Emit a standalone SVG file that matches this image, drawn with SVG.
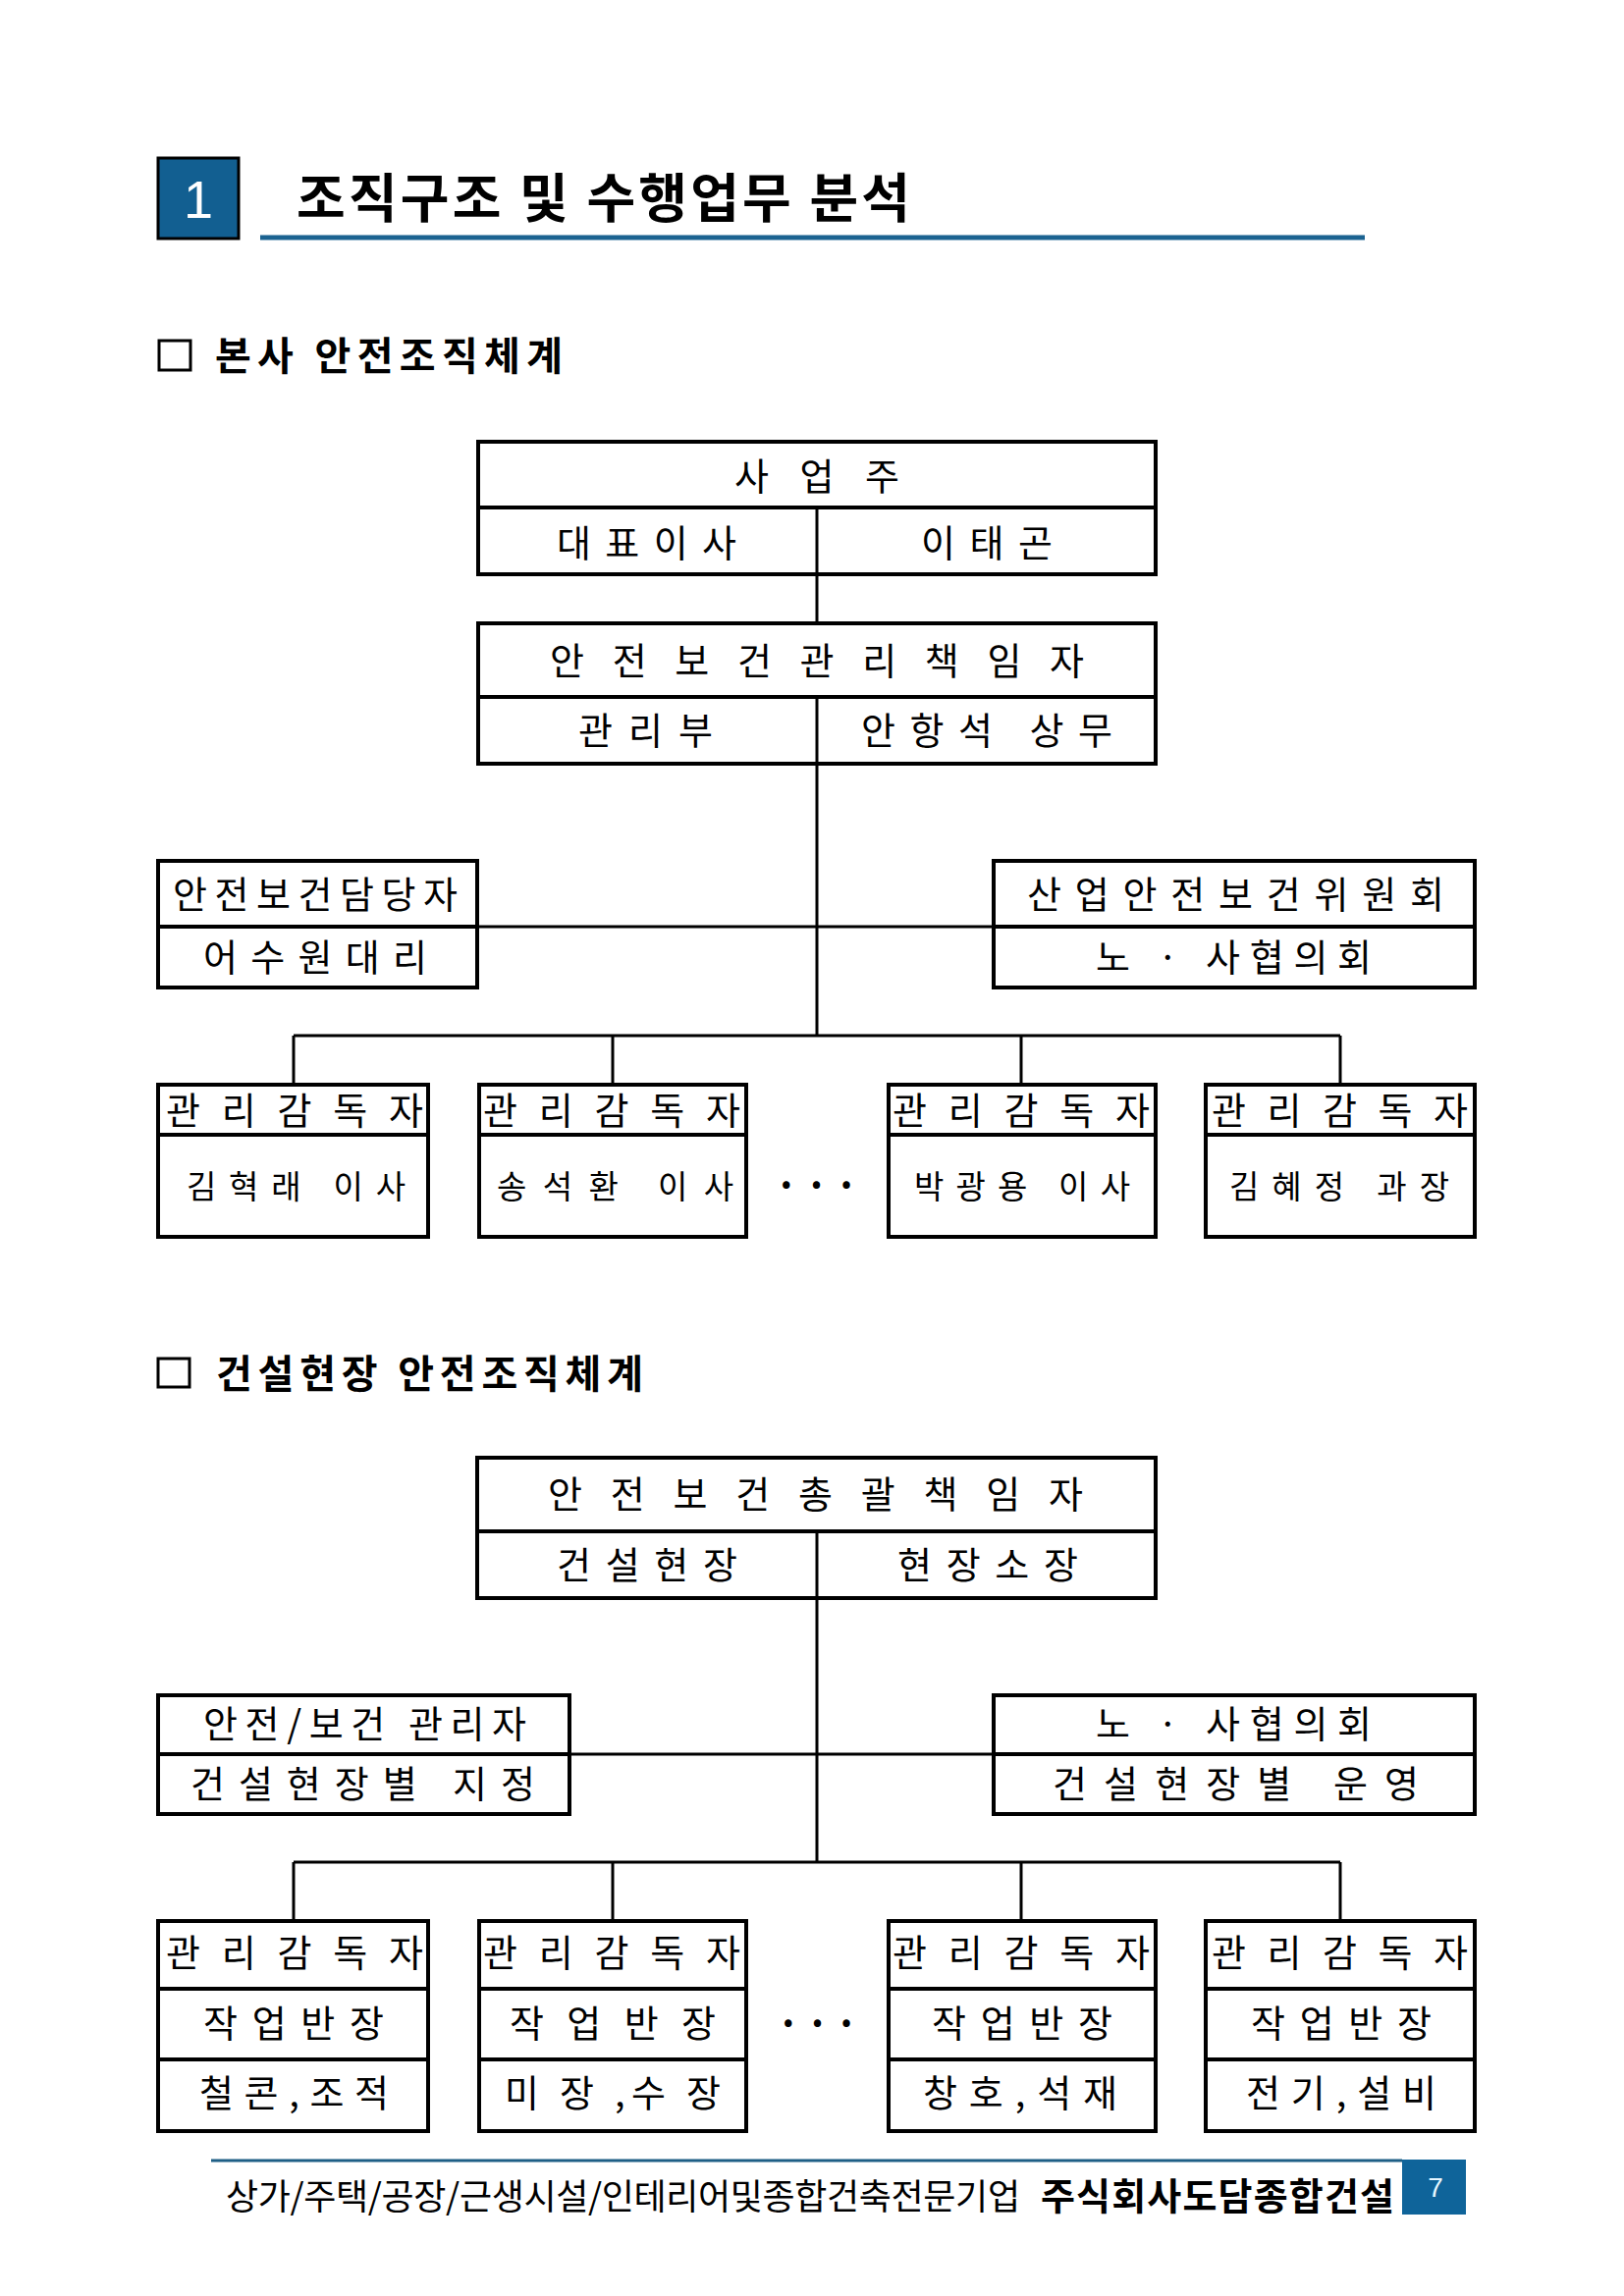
<svg xmlns="http://www.w3.org/2000/svg" width="1654" height="2339" viewBox="0 0 1654 2339">
<style>
.bx{fill:#fff;stroke:#000;stroke-width:4}
.dv{stroke:#000;stroke-width:4;fill:none}
.dvt{stroke:#000;stroke-width:3;fill:none}
.cn{stroke:#000;stroke-width:3;fill:none}
.t{font-family:"Noto Sans CJK KR","Noto Sans",sans-serif;font-size:38px;fill:#000}
.s{font-size:33px}
.d{font-size:40px;font-weight:bold}
.h{font-family:"Noto Sans CJK KR","Noto Sans",sans-serif;font-weight:bold;fill:#000}
</style>
<rect width="1654" height="2339" fill="#fff"/>

<g id="header">
<rect x="161" y="161" width="82" height="82" fill="#125f91" stroke="#000" stroke-width="3"/>
<text x="202" y="222" font-family="Liberation Sans,Arial,sans-serif" font-size="54" fill="#fff" text-anchor="middle">1</text>
<text class="h" x="302" y="222" font-size="54" textLength="625" lengthAdjust="spacing">조직구조 및 수행업무 분석</text>
<line x1="265" y1="242" x2="1390" y2="242" stroke="#1b6391" stroke-width="5"/>
</g>

<g id="section1">
<rect x="162" y="347" width="32" height="30" fill="none" stroke="#000" stroke-width="3"/>
<text class="h" x="219" y="377" font-size="40" textLength="354" lengthAdjust="spacing">본사 안전조직체계</text>
</g>

<g id="connectors1">
<line class="cn" x1="832" y1="585" x2="832" y2="635"/>
<line class="cn" x1="832" y1="778" x2="832" y2="1055"/>
<line class="cn" x1="486" y1="944" x2="1012" y2="944"/>
<line class="cn" x1="299" y1="1055" x2="1365" y2="1055"/>
<line class="cn" x1="299" y1="1055" x2="299" y2="1105"/>
<line class="cn" x1="624" y1="1055" x2="624" y2="1105"/>
<line class="cn" x1="1040" y1="1055" x2="1040" y2="1105"/>
<line class="cn" x1="1365" y1="1055" x2="1365" y2="1105"/>
</g>

<g id="owner">
<rect class="bx" x="487" y="450" width="690" height="135"/>
<line class="dv" x1="487" y1="517" x2="1177" y2="517"/>
<line class="dvt" x1="832" y1="517" x2="832" y2="585"/>
<text class="t" x="748" y="499" textLength="168" lengthAdjust="spacing">사 업 주</text>
<text class="t" x="567" y="567" textLength="183" lengthAdjust="spacing">대표이사</text>
<text class="t" x="938" y="567" textLength="134" lengthAdjust="spacing">이태곤</text>
</g>

<g id="safety-manager">
<rect class="bx" x="487" y="635" width="690" height="143"/>
<line class="dv" x1="487" y1="710" x2="1177" y2="710"/>
<line class="dvt" x1="832" y1="710" x2="832" y2="778"/>
<text class="t" x="560" y="687" textLength="544" lengthAdjust="spacing">안 전 보 건 관 리 책 임 자</text>
<text class="t" x="589" y="758" textLength="137" lengthAdjust="spacing">관리부</text>
<text class="t" x="877" y="758" textLength="256" lengthAdjust="spacing">안항석 상무</text>
</g>

<g id="safety-officer">
<rect class="bx" x="161" y="877" width="325" height="129"/>
<line class="dv" x1="161" y1="944" x2="486" y2="944"/>
<text class="t" x="176" y="925" textLength="290" lengthAdjust="spacing">안전보건담당자</text>
<text class="t" x="207" y="989" textLength="228" lengthAdjust="spacing">어수원대리</text>
</g>

<g id="committee">
<rect class="bx" x="1012" y="877" width="490" height="129"/>
<line class="dv" x1="1012" y1="944" x2="1502" y2="944"/>
<text class="t" x="1046" y="925" textLength="425" lengthAdjust="spacing">산업안전보건위원회</text>
<text class="t" x="1116" y="989" textLength="281" lengthAdjust="spacing">노 · 사협의회</text>
</g>

<g id="supervisor1">
<rect class="bx" x="161" y="1105" width="275" height="155"/>
<line class="dv" x1="161" y1="1156" x2="436" y2="1156"/>
<text class="t" x="169" y="1145" textLength="262" lengthAdjust="spacing">관리감독자</text>
<text class="t s" x="190" y="1221" textLength="223" lengthAdjust="spacing">김혁래 이사</text>
</g>
<g id="supervisor2">
<rect class="bx" x="488" y="1105" width="272" height="155"/>
<line class="dv" x1="488" y1="1156" x2="760" y2="1156"/>
<text class="t" x="492" y="1145" textLength="262" lengthAdjust="spacing">관리감독자</text>
<text class="t s" x="506" y="1221" textLength="241" lengthAdjust="spacing">송석환 이사</text>
</g>
<text class="t d" x="789" y="1222" textLength="85" lengthAdjust="spacing">· · ·</text>
<g id="supervisor3">
<rect class="bx" x="905" y="1105" width="272" height="155"/>
<line class="dv" x1="905" y1="1156" x2="1177" y2="1156"/>
<text class="t" x="909" y="1145" textLength="262" lengthAdjust="spacing">관리감독자</text>
<text class="t s" x="931" y="1221" textLength="220" lengthAdjust="spacing">박광용 이사</text>
</g>
<g id="supervisor4">
<rect class="bx" x="1228" y="1105" width="274" height="155"/>
<line class="dv" x1="1228" y1="1156" x2="1502" y2="1156"/>
<text class="t" x="1234" y="1145" textLength="261" lengthAdjust="spacing">관리감독자</text>
<text class="t s" x="1252" y="1221" textLength="224" lengthAdjust="spacing">김혜정 과장</text>
</g>

<g id="section2">
<rect x="161" y="1384" width="32" height="29" fill="none" stroke="#000" stroke-width="3"/>
<text class="h" x="220" y="1414" font-size="40" textLength="435" lengthAdjust="spacing">건설현장 안전조직체계</text>
</g>

<g id="connectors2">
<line class="cn" x1="832" y1="1628" x2="832" y2="1897"/>
<line class="cn" x1="580" y1="1787" x2="1012" y2="1787"/>
<line class="cn" x1="299" y1="1897" x2="1365" y2="1897"/>
<line class="cn" x1="299" y1="1897" x2="299" y2="1957"/>
<line class="cn" x1="624" y1="1897" x2="624" y2="1957"/>
<line class="cn" x1="1040" y1="1897" x2="1040" y2="1957"/>
<line class="cn" x1="1365" y1="1897" x2="1365" y2="1957"/>
</g>

<g id="site-manager">
<rect class="bx" x="486" y="1485" width="691" height="143"/>
<line class="dv" x1="486" y1="1560" x2="1177" y2="1560"/>
<line class="dvt" x1="832" y1="1560" x2="832" y2="1628"/>
<text class="t" x="558" y="1536" textLength="545" lengthAdjust="spacing">안 전 보 건 총 괄 책 임 자</text>
<text class="t" x="567" y="1608" textLength="184" lengthAdjust="spacing">건설현장</text>
<text class="t" x="914" y="1608" textLength="184" lengthAdjust="spacing">현장소장</text>
</g>

<g id="site-safety-manager">
<rect class="bx" x="161" y="1727" width="419" height="121"/>
<line class="dv" x1="161" y1="1787" x2="580" y2="1787"/>
<text class="t" x="207" y="1770" textLength="329" lengthAdjust="spacing">안전/보건 관리자</text>
<text class="t" x="194" y="1831" textLength="351" lengthAdjust="spacing">건설현장별 지정</text>
</g>

<g id="site-council">
<rect class="bx" x="1012" y="1727" width="490" height="121"/>
<line class="dv" x1="1012" y1="1787" x2="1502" y2="1787"/>
<text class="t" x="1116" y="1770" textLength="281" lengthAdjust="spacing">노 · 사협의회</text>
<text class="t" x="1072" y="1831" textLength="373" lengthAdjust="spacing">건설현장별 운영</text>
</g>

<g id="site-supervisor1">
<rect class="bx" x="161" y="1957" width="275" height="214"/>
<line class="dv" x1="161" y1="2026" x2="436" y2="2026"/>
<line class="dv" x1="161" y1="2098" x2="436" y2="2098"/>
<text class="t" x="169" y="2003" textLength="262" lengthAdjust="spacing">관리감독자</text>
<text class="t" x="207" y="2075" textLength="184" lengthAdjust="spacing">작업반장</text>
<text class="t" x="203" y="2146" textLength="193" lengthAdjust="spacing">철콘,조적</text>
</g>
<g id="site-supervisor2">
<rect class="bx" x="488" y="1957" width="272" height="214"/>
<line class="dv" x1="488" y1="2026" x2="760" y2="2026"/>
<line class="dv" x1="488" y1="2098" x2="760" y2="2098"/>
<text class="t" x="492" y="2003" textLength="262" lengthAdjust="spacing">관리감독자</text>
<text class="t" x="519" y="2075" textLength="210" lengthAdjust="spacing">작 업 반 장</text>
<text class="t" x="514" y="2146" textLength="220" lengthAdjust="spacing">미 장 ,수 장</text>
</g>
<text class="t d" x="791" y="2076" textLength="83" lengthAdjust="spacing">· · ·</text>
<g id="site-supervisor3">
<rect class="bx" x="905" y="1957" width="272" height="214"/>
<line class="dv" x1="905" y1="2026" x2="1177" y2="2026"/>
<line class="dv" x1="905" y1="2098" x2="1177" y2="2098"/>
<text class="t" x="909" y="2003" textLength="262" lengthAdjust="spacing">관리감독자</text>
<text class="t" x="949" y="2075" textLength="184" lengthAdjust="spacing">작업반장</text>
<text class="t" x="940" y="2146" textLength="198" lengthAdjust="spacing">창호,석재</text>
</g>
<g id="site-supervisor4">
<rect class="bx" x="1228" y="1957" width="274" height="214"/>
<line class="dv" x1="1228" y1="2026" x2="1502" y2="2026"/>
<line class="dv" x1="1228" y1="2098" x2="1502" y2="2098"/>
<text class="t" x="1234" y="2003" textLength="261" lengthAdjust="spacing">관리감독자</text>
<text class="t" x="1274" y="2075" textLength="184" lengthAdjust="spacing">작업반장</text>
<text class="t" x="1269" y="2146" textLength="194" lengthAdjust="spacing">전기,설비</text>
</g>

<g id="footer">
<line x1="215" y1="2201" x2="1428" y2="2201" stroke="#1f5f86" stroke-width="3"/>
<rect x="1428" y="2200" width="65" height="56" fill="#0f649a"/>
<text x="1462" y="2238" font-family="Liberation Sans,Arial,sans-serif" font-size="28" fill="#e6f6ff" text-anchor="middle">7</text>
<text x="230" y="2251" font-family="&quot;Noto Sans CJK KR&quot;,sans-serif" font-size="36" fill="#000" textLength="809" lengthAdjust="spacing">상가/주택/공장/근생시설/인테리어및종합건축전문기업</text>
<text class="h" x="1060" y="2251" font-size="38" textLength="360" lengthAdjust="spacing">주식회사도담종합건설</text>
</g>
</svg>
